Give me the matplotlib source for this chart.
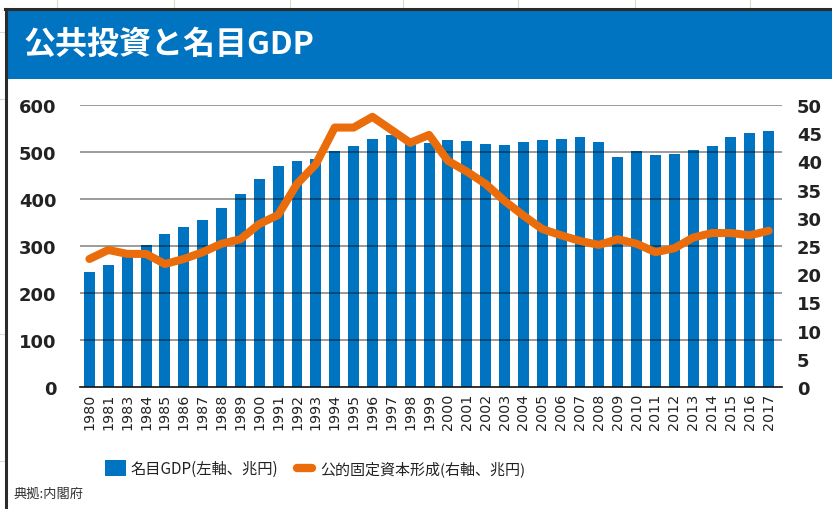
import matplotlib
matplotlib.use("Agg")
import matplotlib.pyplot as plt
from matplotlib.patches import Rectangle
from matplotlib.lines import Line2D

plt.rcParams['font.family'] = ['Noto Sans CJK JP', 'DejaVu Sans']

years = ["1980", "1981", "1983", "1984", "1985", "1986", "1987", "1988", "1989", "1900",
         "1991", "1992", "1993", "1994", "1995", "1996", "1997", "1998", "1999", "2000",
         "2001", "2002", "2003", "2004", "2005", "2006", "2007", "2008", "2009", "2010",
         "2011", "2012", "2013", "2014", "2015", "2016", "2017"]
gdp = [245, 260, 283, 303, 326, 341, 355, 381, 411, 443,
       470, 481, 485, 502, 513, 528, 536, 520, 520, 526,
       523, 517, 515, 521, 526, 528, 532, 521, 489, 502,
       494, 496, 504, 513, 532, 540, 545]
public_inv = [22.7, 24.3, 23.6, 23.6, 21.8, 22.7, 23.9, 25.4, 26.2, 28.9,
              30.5, 36.0, 39.5, 46.0, 46.0, 47.9, 45.6, 43.3, 44.7, 40.1,
              38.2, 36.0, 33.0, 30.4, 28.0, 26.9, 25.9, 25.2, 26.2, 25.4,
              23.9, 24.6, 26.5, 27.3, 27.3, 26.9, 27.7]
left_ticks = [0, 100, 200, 300, 400, 500, 600]
right_ticks = [0, 5, 10, 15, 20, 25, 30, 35, 40, 45, 50]

title = "公共投資と名目GDP"
legend_gdp = "名目GDP(左軸、兆円)"
legend_inv = "公的固定資本形成(右軸、兆円)"
source = "典拠:内閣府"

BLUE = "#0074C1"
ORANGE = "#EA6C0A"
W, H = 832, 510

fig = plt.figure(figsize=(W / 100, H / 100), dpi=100)
fig.patch.set_facecolor("white")

def fx(px):
    return px / W

def fy(py):
    return 1 - py / H

# faint spreadsheet grid above the frame
for x in [57, 174, 290, 403, 518, 635, 750]:
    fig.add_artist(Line2D([fx(x), fx(x)], [fy(0), fy(9)], color="#cfe3c8", lw=0.8))
for y in [33, 100, 335, 462]:
    fig.add_artist(Line2D([fx(0), fx(5)], [fy(y), fy(y)], color="#cfe3c8", lw=0.8))

# title bar
fig.add_artist(Rectangle((fx(6), fy(80)), 1 - fx(6), fy(10) - fy(80),
                         transform=fig.transFigure, facecolor=BLUE, edgecolor="none"))
fig.add_artist(Line2D([fx(5), 1], [fy(9.5), fy(9.5)], color="#2b2b2b", lw=2.2))
fig.add_artist(Line2D([fx(5.5), fx(5.5)], [fy(9.5), 0], color="#2b2b2b", lw=2.2))
fig.text(fx(24), fy(45), title, color="white", fontsize=23, fontweight="bold",
         va="center", ha="left")

# axes
ax = fig.add_axes([fx(80), fy(388), fx(781.7) - fx(80), fy(106) - fy(388)])
x = list(range(len(years)))
ax.bar(x, gdp, width=0.58, color=BLUE, zorder=2)
ax.set_ylim(0, 600)
ax.set_xlim(-0.5, len(years) - 1 + 0.69)
ax.set_yticks(left_ticks)
ax.set_yticklabels([str(t) for t in left_ticks], fontsize=13, color="#222222",
                   family="DejaVu Sans", fontweight="bold")
ax.set_xticks(x)
ax.set_xticklabels(years, rotation=90, fontsize=10.3, color="#222222", family="DejaVu Sans")
ax.tick_params(axis="y", length=0, pad=17)
ax.tick_params(axis="x", length=0, pad=4)
for t in left_ticks[1:]:
    ax.axhline(t, color="black", alpha=0.5, lw=1.1, zorder=3)
for s in ["top", "right", "left"]:
    ax.spines[s].set_visible(False)
ax.spines["bottom"].set_color("#111111")
ax.spines["bottom"].set_linewidth(1.2)
ax.spines["bottom"].set_zorder(4)

ax2 = ax.twinx()
ax2.plot(x, public_inv, color=ORANGE, lw=5.8, solid_capstyle="round",
         solid_joinstyle="round", zorder=5)
ax2.set_ylim(0, 50)
ax2.set_yticks(right_ticks)
ax2.set_yticklabels([str(t) for t in right_ticks], fontsize=13, color="#222222",
                    family="DejaVu Sans", fontweight="bold")
ax2.tick_params(axis="y", length=0, pad=11)
for s in ["top", "right", "left", "bottom"]:
    ax2.spines[s].set_visible(False)

# legend
fig.add_artist(Rectangle((fx(105), fy(477)), fx(126) - fx(105), fy(461) - fy(477),
                         transform=fig.transFigure, facecolor=BLUE, edgecolor="none"))
fig.text(fx(130), fy(469), legend_gdp, fontsize=11, color="#222222", va="center", ha="left")
fig.add_artist(Line2D([fx(297), fx(312)], [fy(469), fy(469)], color=ORANGE, lw=6,
                      solid_capstyle="round"))
fig.text(fx(320), fy(469), legend_inv, fontsize=10.8, color="#222222", va="center", ha="left")

fig.text(fx(13), fy(494), source, fontsize=9.5, color="#333333", va="center", ha="left")

fig.savefig("out.png", dpi=100)
